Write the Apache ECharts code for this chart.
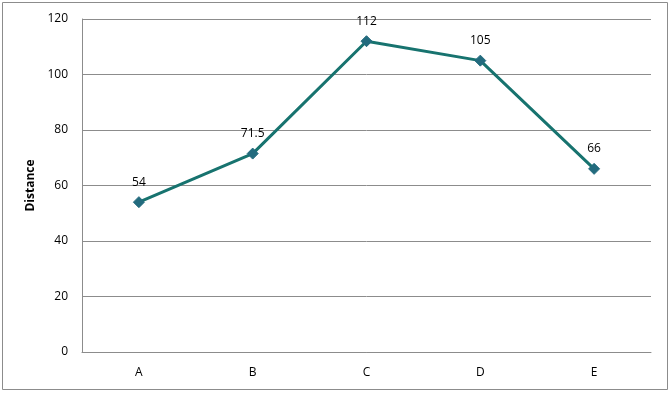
<!DOCTYPE html>
<html><head><meta charset="utf-8">
<script src="https://cdn.jsdelivr.net/npm/echarts@6/dist/echarts.min.js"></script>
<style>html,body{margin:0;padding:0;background:#fff}#c{width:671px;height:395px}</style>
</head><body><div id="c"></div>
<script>
const categories = ['A', 'B', 'C', 'D', 'E'];
const distances = [54, 71.5, 112, 105, 66];
const yTicks = { min: 0, max: 120, interval: 20 };
const yTitle = 'Distance';

const chart = echarts.init(document.getElementById('c'));
const font = 'Open Sans, Liberation Sans, sans-serif';
chart.setOption({
  animation: false,
  backgroundColor: '#fff',
  graphic: [{
    type: 'rect', shape: { x: 2.5, y: 2.5, width: 665, height: 387 },
    style: { fill: 'none', stroke: '#8c8c8c', lineWidth: 1 }, silent: true
  }],
  grid: { left: 82, right: 20, top: 19, bottom: 43, containLabel: false },
  xAxis: {
    type: 'category', data: categories, boundaryGap: true,
    axisLine: { show: true, lineStyle: { color: '#8c8c8c', width: 1 } },
    axisTick: { show: false },
    axisLabel: { color: '#000', fontSize: 12, fontFamily: font, margin: 15 },
    splitLine: { show: false }
  },
  yAxis: {
    type: 'value', min: yTicks.min, max: yTicks.max, interval: yTicks.interval,
    name: yTitle, nameLocation: 'middle', nameGap: 43, nameRotate: 90,
    nameTextStyle: { color: '#000', fontSize: 12, fontWeight: 'bold', fontFamily: font },
    axisLine: { show: true, lineStyle: { color: '#8c8c8c', width: 1 } },
    axisTick: { show: false },
    axisLabel: { color: '#000', fontSize: 12, fontFamily: font, margin: 14 },
    splitLine: { show: true, lineStyle: { color: '#8c8c8c', width: 1 } }
  },
  series: [{
    type: 'line', data: distances,
    symbol: 'diamond', symbolSize: 11,
    lineStyle: { color: '#17736f', width: 3 },
    itemStyle: { color: '#236b7e', borderColor: '#236b7e' },
    label: { show: true, position: 'top', distance: 8, color: '#000', fontSize: 12, fontFamily: font }
  }]
});
</script></body></html>
